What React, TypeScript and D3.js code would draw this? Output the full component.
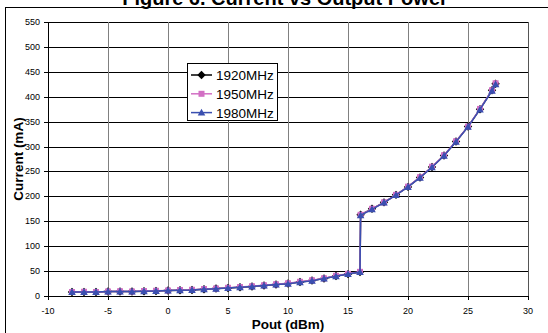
import * as d3 from "d3";

const pout = [
  -8, -7, -6, -5, -4, -3, -2, -1, 0, 1, 2, 3, 4, 5, 6, 7, 8, 9, 10, 11, 12, 13, 14, 15, 16,
  16.05, 17, 18, 19, 20, 21, 22, 23, 24, 25, 26, 27, 27.3,
];
const mA1920 = [
  8, 8, 8, 9, 9, 9, 9.5, 10, 11, 11.5, 12, 13.5, 15, 16, 17.5, 19, 21, 23, 25, 28, 31, 35, 40, 44, 48,
  163, 175, 188, 203, 219, 238, 259, 282, 310, 340, 375, 413, 426,
];
const mA1950 = [
  8, 8.5, 8, 9, 9.5, 9, 10, 10.5, 11, 12, 12.5, 14, 15, 16.5, 18, 19.5, 21.5, 23.5, 25.5, 28.5, 31.5, 35.5, 40.5, 44.5, 48.5,
  163, 175, 188, 203, 219.5, 238.5, 259.5, 282.5, 310.5, 340, 375.5, 413, 427,
];
const mA1980 = [
  8, 8, 8, 9, 9, 9, 9.5, 10, 11, 11.5, 12, 13.5, 14.5, 16, 17.5, 19, 21, 23, 24.5, 27.5, 30.5, 35, 39.5, 44, 48,
  162, 174, 187.5, 202.5, 219, 237.5, 258.5, 281.5, 309.5, 339.5, 374.5, 412, 425,
];
const seriesNames = ["1920MHz", "1950MHz", "1980MHz"];
const xTicks = [-10, -5, 0, 5, 10, 15, 20, 25, 30];
const yTicks = [0, 50, 100, 150, 200, 250, 300, 350, 400, 450, 500, 550];

const colors = ["#000000", "#d26fc4", "#3a4fb0"];
const font = "Arial, 'Liberation Sans', sans-serif";

function Marker({ kind, x, y, color }: { kind: number; x: number; y: number; color: string }) {
  if (kind === 0) {
    const s = 4.2;
    return <path d={`M${x},${y - s}L${x + s},${y}L${x},${y + s}L${x - s},${y}Z`} fill={color} />;
  }
  if (kind === 1) {
    return <rect x={x - 3} y={y - 3} width={6} height={6} fill={color} />;
  }
  return <path d={`M${x},${y - 3.8}L${x + 3.8},${y + 3}L${x - 3.8},${y + 3}Z`} fill={color} />;
}

export default function App() {
  const left = 48;
  const right = 528;
  const top = 22;
  const bottom = 296;

  const x = d3.scaleLinear().domain([-10, 30]).range([left, right]);
  const y = d3.scaleLinear().domain([0, 550]).range([bottom, top]);

  const all = [mA1920, mA1950, mA1980];
  const line = d3
    .line<number>()
    .x((_, i) => x(pout[i]))
    .y((d) => y(d));

  return (
    <svg
      width={548}
      height={333}
      style={{ position: "absolute", left: 0, top: 0, background: "#fff" }}
      fontFamily={font}
    >
      <rect x={0} y={0} width={548} height={333} fill="#fff" />
      {/* outer chart border */}
      <rect x={5.5} y={7.5} width={560} height={340} fill="none" stroke="#000" strokeWidth={1} />

      <text x={285} y={5} textAnchor="middle" fontSize={20} fontWeight="bold">
        Figure 6. Current vs Output Power
      </text>

      {/* horizontal gridlines */}
      {yTicks.map((t) => (
        <line key={"h" + t} x1={left} x2={right} y1={Math.round(y(t)) + 0.5} y2={Math.round(y(t)) + 0.5} stroke="#000" />
      ))}
      {/* vertical gridlines */}
      {xTicks.map((t) => (
        <line key={"v" + t} x1={Math.round(x(t)) + 0.5} x2={Math.round(x(t)) + 0.5} y1={top} y2={bottom} stroke="#808080" />
      ))}
      <line x1={right + 0.5} x2={right + 0.5} y1={top} y2={bottom} stroke="#555" />

      {/* axes */}
      <line x1={left + 0.5} x2={left + 0.5} y1={top} y2={bottom} stroke="#000" />
      <line x1={left} x2={right + 1} y1={Math.round(y(0)) + 0.5} y2={Math.round(y(0)) + 0.5} stroke="#000" />
      {yTicks.map((t) => (
        <g key={"yt" + t}>
          <line x1={left - 4} x2={left} y1={Math.round(y(t)) + 0.5} y2={Math.round(y(t)) + 0.5} stroke="#000" />
          <text x={40} y={y(t) + 3} textAnchor="end" fontSize={9} fill="#000">
            {t}
          </text>
        </g>
      ))}
      {xTicks.map((t) => (
        <g key={"xt" + t}>
          <line x1={Math.round(x(t)) + 0.5} x2={Math.round(x(t)) + 0.5} y1={bottom} y2={bottom + 4} stroke="#000" />
          <text x={x(t)} y={314} textAnchor="middle" fontSize={9} fill="#000">
            {t}
          </text>
        </g>
      ))}

      <text x={(left + right) / 2} y={329} textAnchor="middle" fontSize={13.5} fontWeight="bold">
        Pout (dBm)
      </text>
      <text
        transform={`translate(23,${(top + bottom) / 2}) rotate(-90)`}
        textAnchor="middle"
        fontSize={13.5}
        fontWeight="bold"
      >
        Current (mA)
      </text>

      {/* series */}
      {all.map((vals, s) => (
        <g key={"s" + s}>
          <path d={line(vals) || ""} fill="none" stroke={colors[s]} strokeWidth={1.5} />
          {vals.map((v, i) => (
            <Marker key={i} kind={s} x={x(pout[i])} y={y(v)} color={colors[s]} />
          ))}
        </g>
      ))}

      {/* legend */}
      <rect x={187.5} y={63.5} width={90} height={57} fill="#fff" stroke="#000" />
      {seriesNames.map((name, s) => {
        const ly = 75 + s * 18.8;
        return (
          <g key={name}>
            <line x1={191} x2={212} y1={ly} y2={ly} stroke={colors[s]} strokeWidth={1.5} />
            <Marker kind={s} x={201.5} y={ly} color={colors[s]} />
            <text x={216} y={ly + 5} fontSize={13.5} fill="#000">
              {name}
            </text>
          </g>
        );
      })}
    </svg>
  );
}
